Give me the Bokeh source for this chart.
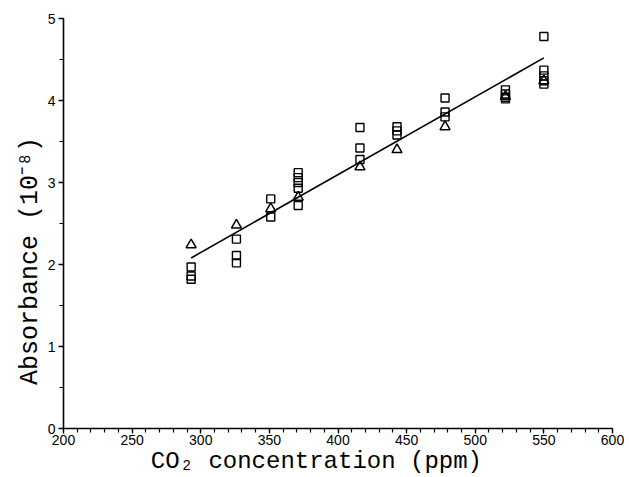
from bokeh.plotting import figure
from bokeh.models import Range1d, FixedTicker
from bokeh.embed import file_html
from bokeh.resources import INLINE

# data (CO2 ppm, absorbance 1e-8)
sq_x = [293, 293, 293,
        326, 326, 326,
        351, 351,
        371, 371, 371, 371, 371,
        416, 416, 416,
        443, 443, 443,
        478, 478, 478,
        522, 522, 522, 522,
        550, 550, 550, 550, 550]
sq_y = [1.97, 1.86, 1.82,
        2.31, 2.11, 2.02,
        2.80, 2.58,
        3.12, 3.06, 3.00, 2.93, 2.72,
        3.67, 3.42, 3.28,
        3.68, 3.63, 3.58,
        4.03, 3.86, 3.80,
        4.13, 4.08, 4.04, 4.02,
        4.78, 4.37, 4.30, 4.24, 4.20]
tri_x = [293, 326, 351, 371, 416, 443, 478, 522, 550]
tri_y = [2.24, 2.48, 2.68, 2.82, 3.19, 3.40, 3.68, 4.05, 4.24]
fit_x = [293, 550]
fit_y = [2.08, 4.52]

x_ticks = [200, 250, 300, 350, 400, 450, 500, 550, 600]
y_ticks = [0, 1, 2, 3, 4, 5]

p = figure(width=629, height=477, output_backend="svg", toolbar_location=None,
           x_range=Range1d(200, 600), y_range=Range1d(0, 5),
           min_border_left=63, min_border_right=17, min_border_top=18, min_border_bottom=49)
p.outline_line_color = None
p.grid.visible = False
p.background_fill_color = "white"
p.border_fill_color = "white"

p.line(fit_x, fit_y, line_color="black", line_width=1.6)
p.scatter(sq_x, sq_y, marker="square", size=8, fill_color=None, line_color="black", line_width=1.4)
p.scatter(tri_x, tri_y, marker="triangle", size=10, fill_color=None, line_color="black", line_width=1.5)

p.xaxis.ticker = FixedTicker(ticks=x_ticks, minor_ticks=list(range(200, 601, 10)))
p.yaxis.ticker = FixedTicker(ticks=y_ticks, minor_ticks=[v / 2 for v in range(0, 11)])

for ax in (p.xaxis[0], p.yaxis[0]):
    ax.axis_line_color = "black"
    ax.axis_line_width = 1.6
    ax.major_tick_line_color = "black"
    ax.minor_tick_line_color = "black"
    ax.major_tick_line_width = 1.3
    ax.minor_tick_line_width = 1.2
    ax.major_tick_in = 0
    ax.minor_tick_in = 0
    ax.major_tick_out = 5
    ax.minor_tick_out = 4
    ax.major_label_text_font = "Liberation Sans"
    ax.major_label_text_font_size = "14px"
    ax.major_label_text_color = "black"
    ax.axis_label_text_font = "Liberation Mono"
    ax.axis_label_text_font_size = "24px"
    ax.axis_label_text_font_style = "normal"
    ax.axis_label_text_color = "black"

NB = "\u00a0"
p.xaxis.axis_label = "CO\u2082 concentration (ppm)" + NB * 3
p.yaxis.axis_label = "Absorbance (10\u207b\u2078)" + NB * 5
p.yaxis.axis_label_text_font_size = "25px"
p.xaxis.major_label_standoff = 1
p.xaxis.axis_label_standoff = 0
p.yaxis.major_label_standoff = 3
p.yaxis.axis_label_standoff = 0

open("out.html", "w").write(file_html(p, INLINE))
